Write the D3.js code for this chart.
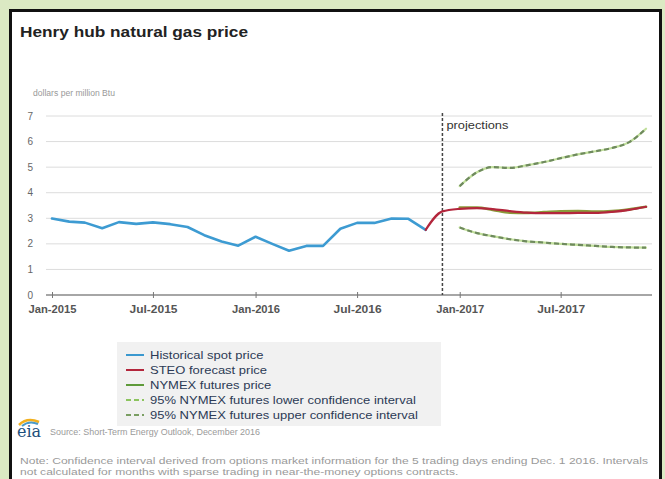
<!DOCTYPE html>
<html>
<head>
<meta charset="utf-8">
<script src="https://cdn.jsdelivr.net/npm/d3@7"></script>
<style>
  html, body { margin: 0; padding: 0; background: #dbe9c3; }
  svg { display: block; font-family: "Liberation Sans", Arial, sans-serif; }
</style>
</head>
<body>
<div id="chart"></div>
<script>
// monthly data, Jan-2015 .. Dec-2017
const histMonths = d3.timeMonths(new Date(2015, 0, 1), new Date(2016, 11, 1)); // Jan-2015 .. Nov-2016
const histPrice = [2.99, 2.87, 2.83, 2.61, 2.85, 2.78, 2.84, 2.77, 2.66, 2.34, 2.09, 1.93,
                   2.28, 1.99, 1.73, 1.92, 1.92, 2.59, 2.82, 2.82, 2.99, 2.98, 2.55];

const steoMonths = d3.timeMonths(new Date(2016, 10, 1), new Date(2018, 0, 1)); // Nov-2016 .. Dec-2017
const steoPrice = [2.55, 3.27, 3.37, 3.40, 3.36, 3.28, 3.22, 3.20, 3.20, 3.21, 3.21, 3.25, 3.33, 3.45];

const futMonths = d3.timeMonths(new Date(2017, 0, 1), new Date(2018, 0, 1)); // Jan-2017 .. Dec-2017
const futPrice = [3.42, 3.42, 3.33, 3.22, 3.21, 3.24, 3.27, 3.28, 3.26, 3.28, 3.35, 3.45];
const lowerCI  = [2.64, 2.42, 2.30, 2.18, 2.10, 2.05, 2.00, 1.96, 1.92, 1.88, 1.86, 1.85];
const upperCI  = [4.26, 4.80, 5.00, 4.97, 5.07, 5.20, 5.35, 5.50, 5.62, 5.75, 5.98, 6.50];

const yTicks = [0, 1, 2, 3, 4, 5, 6, 7];
const xTicks = [new Date(2015, 0, 1), new Date(2015, 6, 1), new Date(2016, 0, 1),
                new Date(2016, 6, 1), new Date(2017, 0, 1), new Date(2017, 6, 1)];
const projStart = new Date(2016, 11, 1);

const legendItems = [
  { label: 'Historical spot price', color: '#3a98cf', dash: null },
  { label: 'STEO forecast price', color: '#b3263c', dash: null },
  { label: 'NYMEX futures price', color: '#5e9a3a', dash: null },
  { label: '95% NYMEX futures lower confidence interval', color: '#8cc45e', dash: '5,3' },
  { label: '95% NYMEX futures upper confidence interval', color: '#7a9e62', dash: '5,3' }
];

const width = 665, height = 479;
const svg = d3.select('#chart').append('svg')
  .attr('width', width).attr('height', height);

// text in the picture is drawn wide; stretch a text node to a given width
function fitWidth(sel, w) {
  sel.attr('textLength', w).attr('lengthAdjust', 'spacingAndGlyphs');
}
function stretch(sel, k) {
  sel.each(function () {
    const len = this.getComputedTextLength();
    d3.select(this).attr('textLength', len * k).attr('lengthAdjust', 'spacingAndGlyphs');
  });
}

// framed white panel
svg.append('rect').attr('x', 10.5).attr('y', 10.5).attr('width', 650).attr('height', 490)
  .attr('fill', '#fff').attr('stroke', '#111').attr('stroke-width', 3);

svg.append('text').attr('x', 20).attr('y', 37)
  .attr('font-size', 15).attr('font-weight', 'bold').attr('fill', '#222')
  .text('Henry hub natural gas price').call(fitWidth, 228);

svg.append('text').attr('x', 33).attr('y', 96)
  .attr('font-size', 8.5).attr('fill', '#999')
  .text('dollars per million Btu').call(fitWidth, 82);

const x = d3.scaleTime().domain([new Date(2015, 0, 1), new Date(2017, 11, 1)]).range([52, 646]);
const y = d3.scaleLinear().domain([0, 7]).range([295, 116]);

// gridlines
svg.append('g').selectAll('line').data(yTicks.filter(d => d > 0)).enter().append('line')
  .attr('x1', 46).attr('x2', 652)
  .attr('y1', d => y(d)).attr('y2', d => y(d))
  .attr('stroke', '#dcdcdc').attr('stroke-width', 1);

// y labels
svg.append('g').selectAll('text').data(yTicks).enter().append('text')
  .attr('x', 33).attr('y', d => y(d) + 3.5)
  .attr('text-anchor', 'end').attr('font-size', 10).attr('fill', '#666')
  .text(d => d);

// x axis
const xAxis = d3.axisBottom(x).tickValues(xTicks).tickSize(3)
  .tickFormat(d3.timeFormat('%b-%Y'));
const gx = svg.append('g').attr('transform', `translate(0,${y(0)})`).call(xAxis);
gx.select('.domain').attr('stroke', '#888').attr('stroke-width', 1.5)
  .attr('d', 'M46,0H652');
gx.selectAll('.tick line').attr('stroke', '#777').attr('y1', -3).attr('y2', 3);
gx.selectAll('.tick text').attr('font-size', 10).attr('font-weight', 'bold')
  .attr('fill', '#555').attr('dy', '1.2em')
  .attr('font-family', '"Liberation Sans", Arial, sans-serif')
  .call(fitWidth, 48);

// projections divider
svg.append('line')
  .attr('x1', x(projStart)).attr('x2', x(projStart))
  .attr('y1', y(7) - 3).attr('y2', y(0))
  .attr('stroke', '#444').attr('stroke-width', 1.5).attr('stroke-dasharray', '3,2');
svg.append('text').attr('x', x(projStart) + 4).attr('y', y(7) + 13)
  .attr('font-size', 11).attr('fill', '#333').text('projections').call(fitWidth, 62);

const lineLin = d3.line().x(d => x(d[0])).y(d => y(d[1]));
const lineSmooth = d3.line().curve(d3.curveMonotoneX).x(d => x(d[0])).y(d => y(d[1]));

function draw(months, vals, gen, color, w, dash) {
  const p = svg.append('path').datum(d3.zip(months, vals))
    .attr('d', gen).attr('fill', 'none')
    .attr('stroke', color).attr('stroke-width', w)
    .attr('stroke-linejoin', 'round').attr('stroke-linecap', 'round');
  if (dash) p.attr('stroke-dasharray', dash).attr('stroke-linecap', 'butt');
  return p;
}

// confidence bands: light base with darker dashes on top
draw(futMonths, lowerCI, lineSmooth, '#c2e09c', 2.2);
draw(futMonths, lowerCI, lineSmooth, '#6f8a5e', 2.2, '5,3');
draw(futMonths, upperCI, lineSmooth, '#c2e09c', 2.2);
draw(futMonths, upperCI, lineSmooth, '#6f8a5e', 2.2, '5,3');
draw(futMonths, futPrice, lineSmooth, '#8a9a3a', 2.6);
draw(histMonths, histPrice, lineLin, '#3d9bd2', 2.6);
draw(steoMonths, steoPrice, lineSmooth, '#b3263c', 2.2);

// legend
const lg = svg.append('g');
lg.append('rect').attr('x', 117).attr('y', 342).attr('width', 324).attr('height', 84)
  .attr('fill', '#f1f1f1');
const li = lg.selectAll('g.item').data(legendItems).enter().append('g')
  .attr('transform', (d, i) => `translate(126,${355 + i * 15})`);
li.append('line').attr('x1', 0).attr('x2', 18).attr('y1', 0).attr('y2', 0)
  .attr('stroke', d => d.color).attr('stroke-width', 2)
  .attr('stroke-dasharray', d => d.dash);
li.append('text').attr('x', 24).attr('y', 4)
  .attr('font-size', 11.5).attr('fill', '#2c3a55')
  .text(d => d.label).call(stretch, 1.13);

// eia logo and source
const logo = svg.append('g').attr('transform', 'translate(17,432)');
logo.append('path').attr('d', 'M2,-7 Q10,-15 22,-10').attr('fill', 'none')
  .attr('stroke', '#f2b01e').attr('stroke-width', 2.5);
logo.append('path').attr('d', 'M5,-6 Q12,-12 21,-8').attr('fill', 'none')
  .attr('stroke', '#4a9ac8').attr('stroke-width', 2);
logo.append('text').attr('x', 0).attr('y', 5)
  .attr('font-size', 16).attr('font-family', '"DejaVu Serif", serif')
  .attr('fill', '#1d4f7c').text('eia');
svg.append('text').attr('x', 50).attr('y', 435)
  .attr('font-size', 9).attr('fill', '#9a9a9a')
  .text('Source: Short-Term Energy Outlook, December 2016').call(fitWidth, 210);

// note
const note = svg.append('text').attr('font-size', 9).attr('fill', '#9a9a9a');
const n1 = note.append('tspan').attr('x', 20).attr('y', 464)
  .text('Note: Confidence interval derived from options market information for the 5 trading days ending Dec. 1 2016. Intervals');
const n2 = note.append('tspan').attr('x', 20).attr('y', 475)
  .text('not calculated for months with sparse trading in near-the-money options contracts.');
const k = 628 / n1.node().getComputedTextLength();
n1.attr('textLength', 628).attr('lengthAdjust', 'spacingAndGlyphs');
n2.attr('textLength', n2.node().getComputedTextLength() * k).attr('lengthAdjust', 'spacingAndGlyphs');
</script>
</body>
</html>
